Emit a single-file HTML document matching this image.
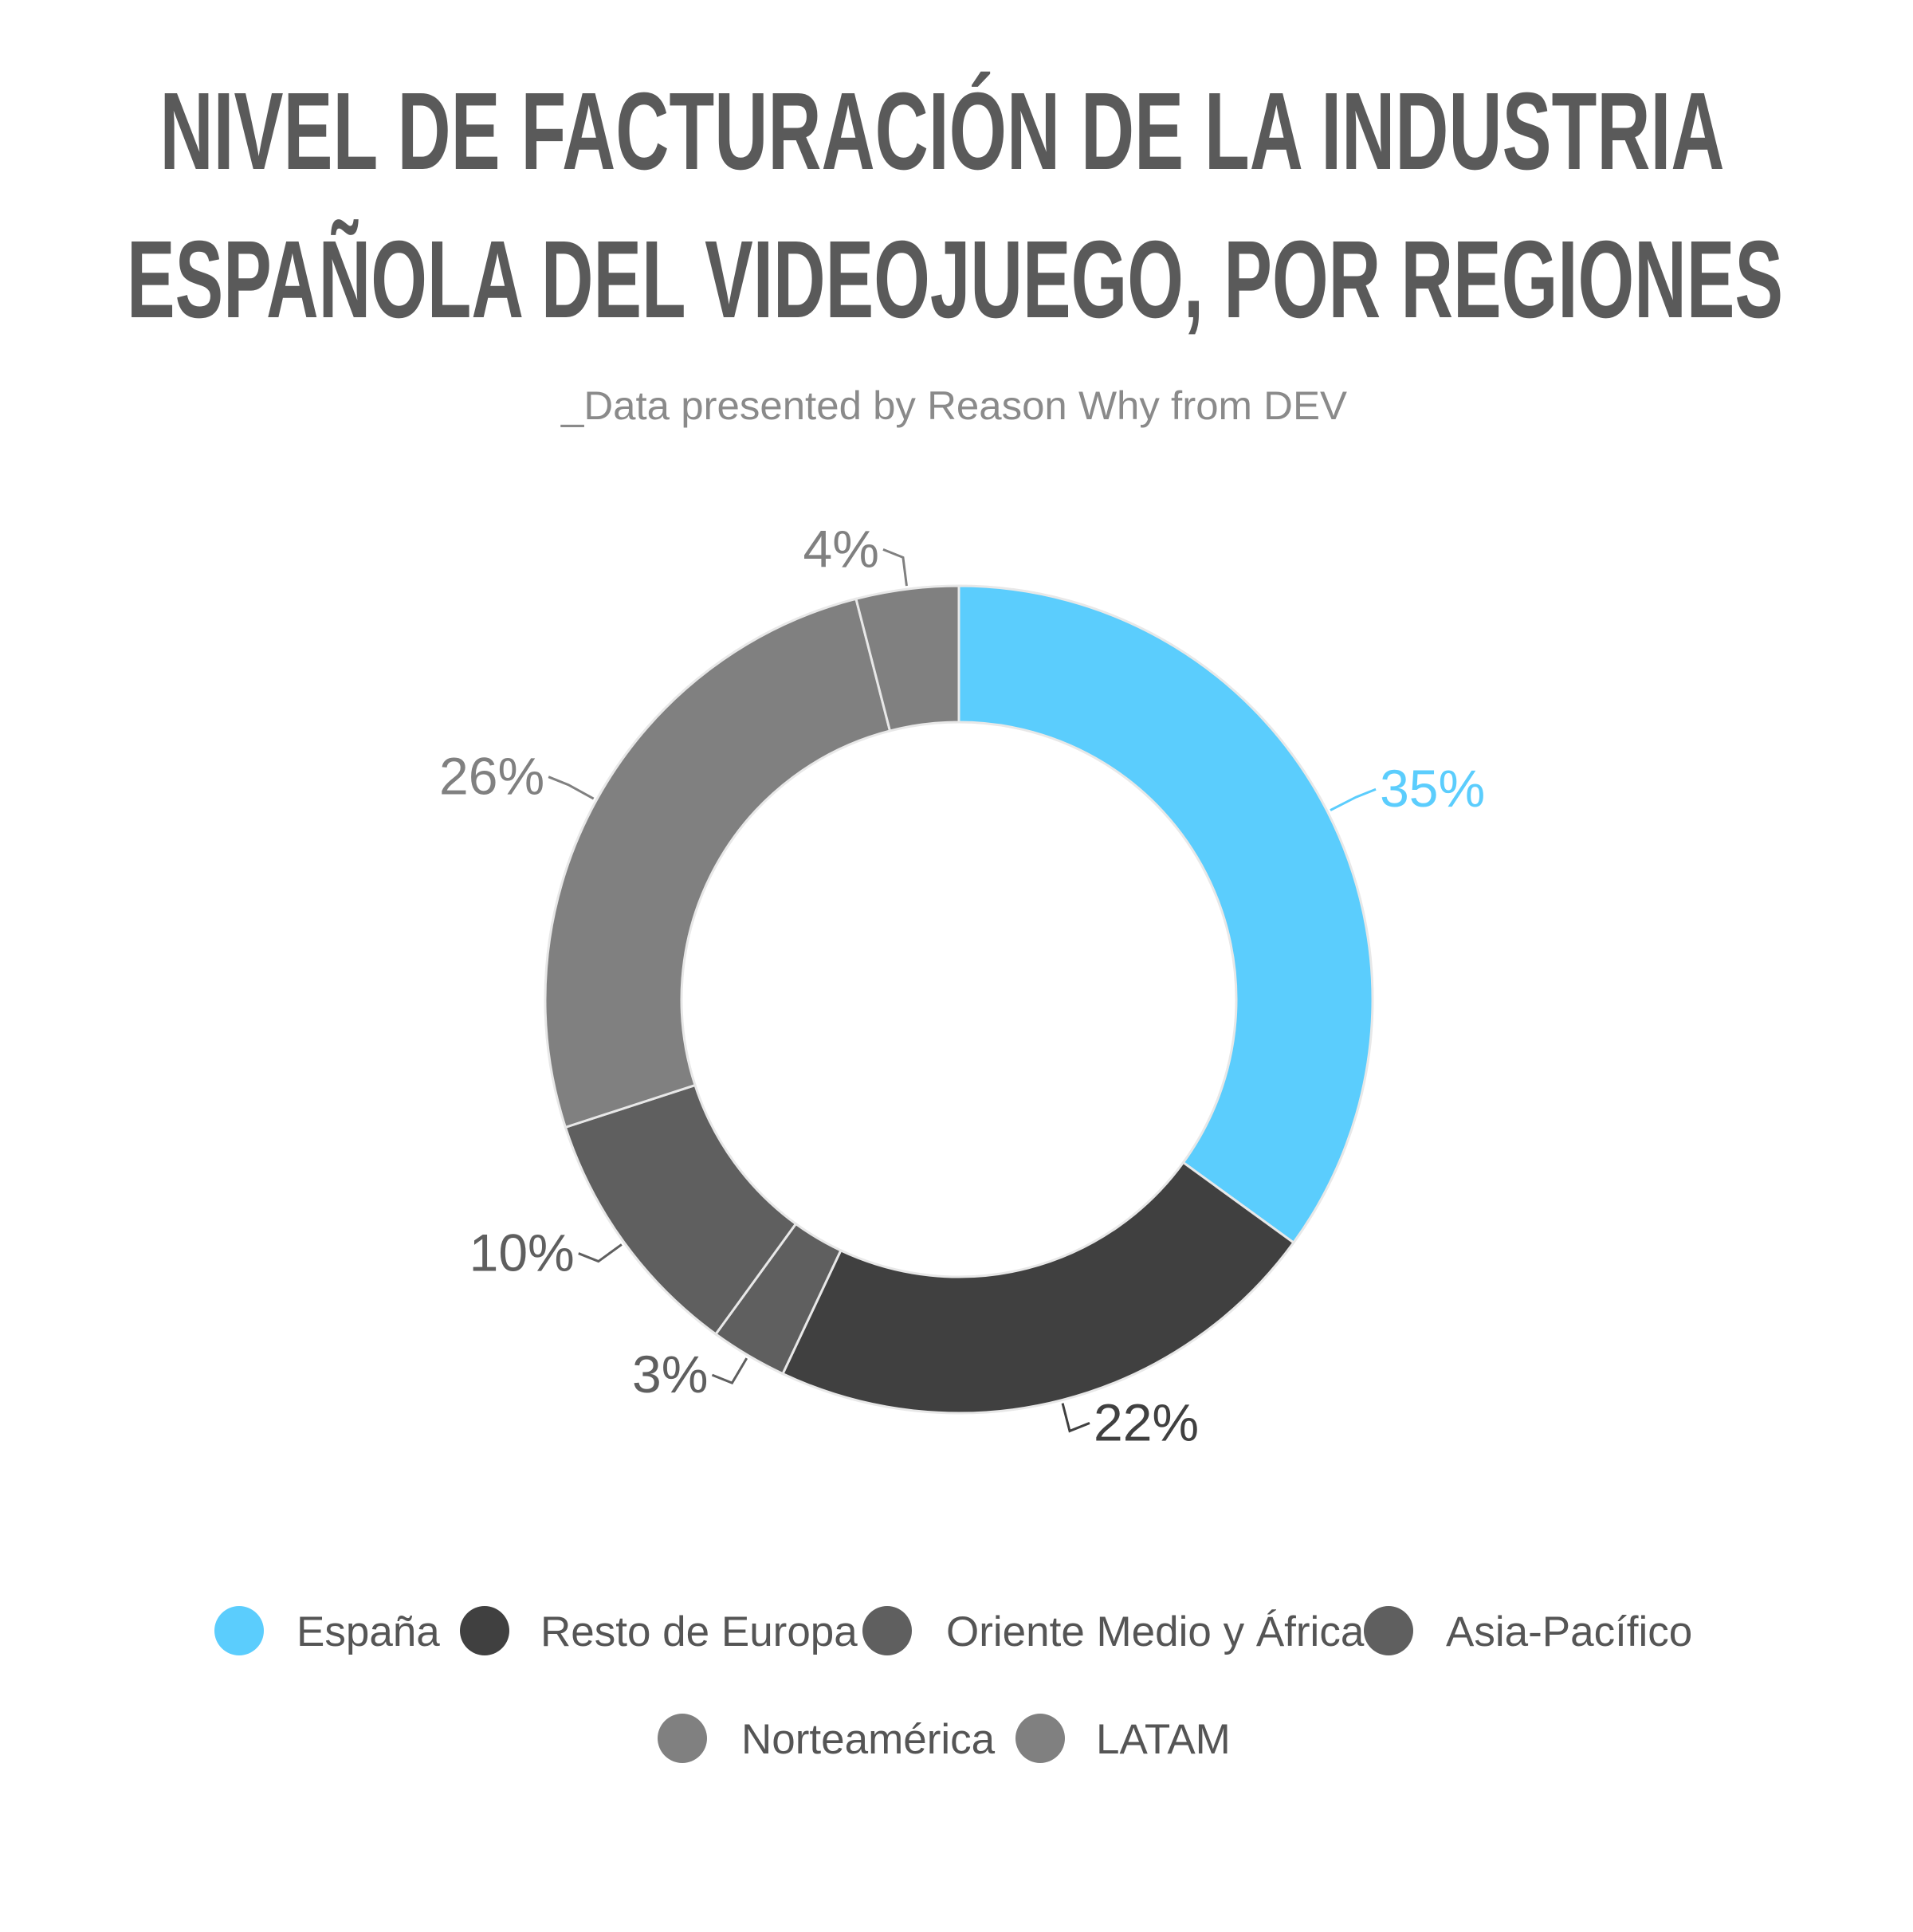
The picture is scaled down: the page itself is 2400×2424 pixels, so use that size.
<!DOCTYPE html>
<html><head><meta charset="utf-8"><style>
html,body{margin:0;padding:0;background:#fff}
svg{display:block}
</style></head><body>
<svg id="chart" width="2400" height="2424" viewBox="0 0 2400 2424" xmlns="http://www.w3.org/2000/svg">
<rect width="2400" height="2424" fill="#fff"/>
<text x="1182" y="212" text-anchor="middle" textLength="1963" lengthAdjust="spacingAndGlyphs" font-family="'Liberation Sans Narrow','Liberation Sans',sans-serif" font-weight="bold" font-size="138" fill="#5a5a5a">NIVEL DE FACTURACIÓN DE LA INDUSTRIA</text>
<text x="1198" y="398" text-anchor="middle" textLength="2078" lengthAdjust="spacingAndGlyphs" font-family="'Liberation Sans Narrow','Liberation Sans',sans-serif" font-weight="bold" font-size="138" fill="#5a5a5a">ESPAÑOLA DEL VIDEOJUEGO, POR REGIONES</text>
<text x="1197" y="526" text-anchor="middle" textLength="986" lengthAdjust="spacingAndGlyphs" font-family="'Liberation Sans',sans-serif" font-size="50" fill="#8a8a8a">_Data presented by Reason Why from DEV</text>
<g id="slices"></g>
<g id="labels"></g>
<g id="legend"></g>
</svg>
<script>
const categories = ["España","Resto de Europa","Oriente Medio y África","Asia-Pacífico","Norteamérica","LATAM"];
const values = [35,22,3,10,26,4];
const valueLabels = ["35%","22%","3%","10%","26%","4%"];
const colors = ["#5bcdfd","#404040","#5f5f5f","#5f5f5f","#808080","#808080"];
const labelColors = ["#5bcdfd","#404040","#5f5f5f","#5f5f5f","#808080","#808080"];
const NS="http://www.w3.org/2000/svg";
const cx=1203, cy=1254, R=519, r=348;
const total=values.reduce((a,b)=>a+b,0);
function pt(a,rad){return [cx+rad*Math.sin(a), cy-rad*Math.cos(a)];}
const gS=document.getElementById('slices'), gL=document.getElementById('labels'), gG=document.getElementById('legend');
let acc=0;
values.forEach((v,i)=>{
  const a0=acc/total*2*Math.PI; acc+=v; const a1=acc/total*2*Math.PI;
  const large=(a1-a0)>Math.PI?1:0;
  const p0=pt(a0,R),p1=pt(a1,R),q1=pt(a1,r),q0=pt(a0,r);
  const p=document.createElementNS(NS,'path');
  p.setAttribute('d',`M${p0[0]},${p0[1]} A${R},${R} 0 ${large} 1 ${p1[0]},${p1[1]} L${q1[0]},${q1[1]} A${r},${r} 0 ${large} 0 ${q0[0]},${q0[1]} Z`);
  p.setAttribute('fill',colors[i]); p.setAttribute('stroke','#e8e8e8'); p.setAttribute('stroke-width','3');
  
  
  gS.appendChild(p);
  const am=(a0+a1)/2;
  const e=pt(am,R+4), m=pt(am,R+40);
  const right=Math.sin(am)>=0;
  const ln=document.createElementNS(NS,'polyline');
  ln.setAttribute('points',`${e[0]},${e[1]} ${m[0]},${m[1]} ${m[0]+(right?25:-25)},${m[1]-10}`);
  ln.setAttribute('fill','none'); ln.setAttribute('stroke',labelColors[i]); ln.setAttribute('stroke-width','3');
  
  
  gL.appendChild(ln);
  const t=document.createElementNS(NS,'text');
  t.setAttribute('x',m[0]+(right?30:-30)); t.setAttribute('y',m[1]+12);
  t.setAttribute('text-anchor',right?'start':'end');
  t.setAttribute('font-family',"'Liberation Sans',sans-serif"); t.setAttribute('font-size','66');
  t.setAttribute('fill',labelColors[i]); t.textContent=valueLabels[i];
  
  
  gL.appendChild(t);
});
const legPos=[[300,372,2046],[608,678,2046],[1113,1187,2046],[1742,1814,2046],[856,930,2181],[1305,1375,2181]];
categories.forEach((c,i)=>{
  const [x,tx,y]=legPos[i];
  const g=document.createElementNS(NS,'g');
  
  
  const ci=document.createElementNS(NS,'circle');
  ci.setAttribute('cx',x); ci.setAttribute('cy',y); ci.setAttribute('r',31); ci.setAttribute('fill',colors[i]);
  
  
  const t=document.createElementNS(NS,'text');
  t.setAttribute('x',tx); t.setAttribute('y',y+19);
  t.setAttribute('font-family',"'Liberation Sans',sans-serif"); t.setAttribute('font-size','53'); t.setAttribute('fill','#555');
  t.textContent=c;
  
  
  g.appendChild(ci); g.appendChild(t); gG.appendChild(g);
});
</script>
</body></html>
